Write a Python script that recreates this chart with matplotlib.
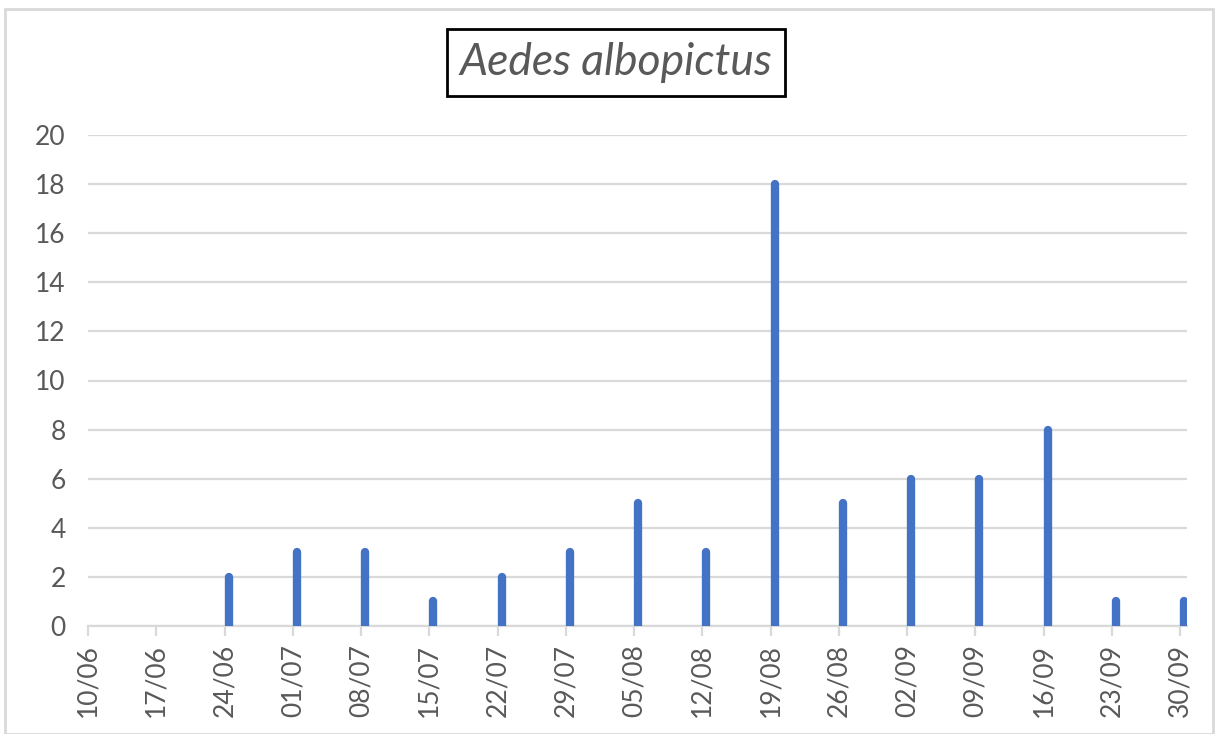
import matplotlib.pyplot as plt
import datetime as dt
from matplotlib.patches import Rectangle

plt.rcParams['font.family'] = ['Lato', 'DejaVu Sans']

# weekly samples
dates = ['10/06', '17/06', '24/06', '01/07', '08/07', '15/07', '22/07', '29/07', '05/08',
         '12/08', '19/08', '26/08', '02/09', '09/09', '16/09', '23/09', '30/09']
counts = [0, 0, 2, 3, 3, 1, 2, 3, 5, 3, 18, 5, 6, 6, 8, 1, 1]
yticks = [0, 2, 4, 6, 8, 10, 12, 14, 16, 18, 20]

days = [dt.datetime.strptime(d + '/2019', '%d/%m/%Y') for d in dates]
xpos = [d + dt.timedelta(hours=10) for d in days]

grey = '#595959'
gridc = '#d9d9d9'

fig = plt.figure(figsize=(12.2, 7.34), dpi=100)
ax = fig.add_axes([88/1220, 1-626/734, (1187-88)/1220, (626-135)/734])

ax.vlines(xpos, 0, counts, color='#4472C4', linewidth=6, capstyle='round', zorder=3)

ax.set_ylim(0, 20)
ax.set_xlim(days[0], days[-1] + dt.timedelta(hours=17))
ax.set_yticks(yticks)
ax.set_xticks(days)
ax.set_xticklabels(dates, rotation=90)
ax.grid(axis='y', color=gridc, linewidth=1.6)
ax.set_axisbelow(True)
for s in ['top', 'right', 'left']:
    ax.spines[s].set_visible(False)
ax.spines['bottom'].set_color(gridc)
ax.spines['bottom'].set_linewidth(1.6)
ax.tick_params(axis='x', colors=grey, labelsize=19, length=7, width=1.6, color=gridc, pad=6)
ax.tick_params(axis='y', colors=grey, labelsize=19, length=0, pad=16)

fig.text(0.505, 1-62.5/734, 'Aedes albopictus', ha='center', va='center', style='italic',
         fontsize=32, color=grey,
         bbox=dict(boxstyle='square,pad=0.29', facecolor='white', edgecolor='black', linewidth=2))

fig.patches.append(Rectangle((5/1220, 0), 1208/1220, 1-9/734, transform=fig.transFigure,
                             fill=False, edgecolor='#d9d9d9', linewidth=2))

fig.savefig('out.png', dpi=100)
